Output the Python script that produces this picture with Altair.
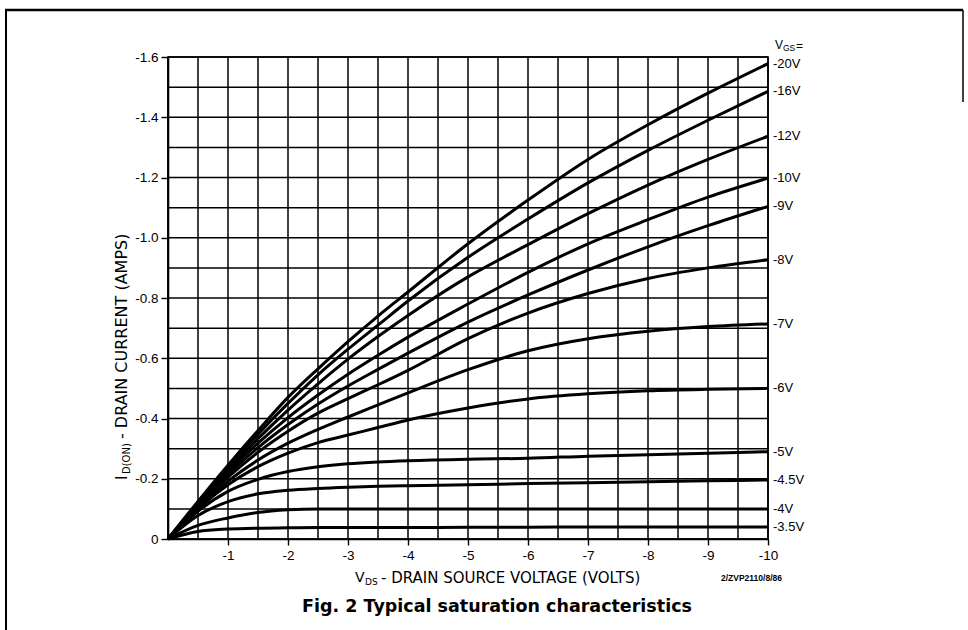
import altair as alt
import pandas as pd

# Drain-source voltage sample points (V)
vds = [0, -0.5, -1, -1.5, -2, -2.5, -3, -3.5, -4, -5, -6, -7, -8, -9, -10]

# Drain current (A) for each gate-source voltage
id_20 = [0, -0.125, -0.245, -0.36, -0.47, -0.565, -0.655, -0.74, -0.82, -0.98, -1.125, -1.26, -1.375, -1.48, -1.578]
id_16 = [0, -0.122, -0.238, -0.348, -0.45, -0.545, -0.63, -0.71, -0.79, -0.935, -1.062, -1.182, -1.29, -1.39, -1.486]
id_12 = [0, -0.118, -0.23, -0.333, -0.428, -0.515, -0.597, -0.672, -0.742, -0.87, -0.977, -1.08, -1.175, -1.26, -1.337]
id_10 = [0, -0.115, -0.222, -0.318, -0.403, -0.478, -0.547, -0.61, -0.67, -0.78, -0.885, -0.98, -1.06, -1.135, -1.198]
id_9 = [0, -0.112, -0.214, -0.303, -0.38, -0.448, -0.508, -0.563, -0.617, -0.72, -0.81, -0.893, -0.97, -1.04, -1.104]
id_8 = [0, -0.11, -0.205, -0.288, -0.358, -0.418, -0.466, -0.512, -0.56, -0.665, -0.75, -0.815, -0.865, -0.9, -0.927]
id_7 = [0, -0.105, -0.192, -0.262, -0.318, -0.364, -0.405, -0.445, -0.485, -0.562, -0.625, -0.665, -0.69, -0.705, -0.714]
id_6 = [0, -0.1, -0.18, -0.24, -0.285, -0.32, -0.345, -0.37, -0.395, -0.435, -0.465, -0.482, -0.492, -0.497, -0.5]
id_5 = [0, -0.092, -0.158, -0.198, -0.224, -0.24, -0.25, -0.256, -0.26, -0.265, -0.268, -0.275, -0.28, -0.285, -0.29]
id_45 = [0, -0.078, -0.124, -0.15, -0.162, -0.168, -0.172, -0.175, -0.177, -0.18, -0.184, -0.187, -0.19, -0.193, -0.196]
id_4 = [0, -0.045, -0.07, -0.088, -0.097, -0.1, -0.1, -0.1, -0.1, -0.1, -0.1, -0.1, -0.1, -0.1, -0.1]
id_35 = [0, -0.025, -0.033, -0.036, -0.037, -0.038, -0.038, -0.038, -0.038, -0.039, -0.039, -0.04, -0.04, -0.04, -0.04]

vgs_labels = ["-20V", "-16V", "-12V", "-10V", "-9V", "-8V", "-7V", "-6V", "-5V", "-4.5V", "-4V", "-3.5V"]
series = [id_20, id_16, id_12, id_10, id_9, id_8, id_7, id_6, id_5, id_45, id_4, id_35]

# grid lines and labelled ticks
x_grid = [0, -0.5, -1, -1.5, -2, -2.5, -3, -3.5, -4, -4.5, -5, -5.5, -6, -6.5, -7, -7.5, -8, -8.5, -9, -9.5, -10]
y_grid = [0, -0.1, -0.2, -0.3, -0.4, -0.5, -0.6, -0.7, -0.8, -0.9, -1.0, -1.1, -1.2, -1.3, -1.4, -1.5, -1.6]
x_labels = [-1, -2, -3, -4, -5, -6, -7, -8, -9, -10]
y_labels = [0, -0.2, -0.4, -0.6, -0.8, -1.0, -1.2, -1.4, -1.6]

rows = []
for name, vals in zip(vgs_labels, series):
    for v, i in zip(vds, vals):
        rows.append({"vgs": name, "vds": v, "id": i})
df = pd.DataFrame(rows)
ends = pd.DataFrame({"vgs": vgs_labels,
                     "vds": [vds[-1]] * len(series),
                     "id": [s[-1] for s in series]})
one = pd.DataFrame({"a": [0]})

FONT = "Liberation Sans"
TFONT = "DejaVu Sans"
W, H = 600, 482

xs = alt.Scale(domain=[-10, 0], reverse=True, nice=False, zero=False)
ys = alt.Scale(domain=[-1.6, 0], reverse=True, nice=False, zero=False)

x_axis = alt.Axis(
    values=x_labels, grid=False, title=None,
    domainColor="black", domainWidth=1.6,
    tickColor="black", tickSize=6, tickWidth=1.4,
    labelExpr="'-' + abs(datum.value)",
    labelFont=FONT, labelFontSize=13.5, labelColor="black", labelPadding=3,
    labelOverlap=False, labelFlush=False,
)
y_axis = alt.Axis(
    values=y_labels, grid=False, title=None,
    domainColor="black", domainWidth=1.6,
    tickColor="black", tickSize=7, tickWidth=1.4,
    labelExpr="datum.value == 0 ? '0' : '-' + format(abs(datum.value), '.1f')",
    labelFont=FONT, labelFontSize=13.5, labelColor="black", labelPadding=3,
    labelOverlap=False, labelFlush=False,
)

vgrid = alt.Chart(pd.DataFrame({"v": x_grid})).mark_rule(color="black", strokeWidth=1.5).encode(
    x=alt.X("v:Q", scale=xs, axis=x_axis))
hgrid = alt.Chart(pd.DataFrame({"i": y_grid})).mark_rule(color="black", strokeWidth=1.5).encode(
    y=alt.Y("i:Q", scale=ys, axis=y_axis))

lines = alt.Chart(df).mark_line(color="black", strokeWidth=3, interpolate="monotone").encode(
    x=alt.X("vds:Q", scale=xs, axis=x_axis),
    y=alt.Y("id:Q", scale=ys, axis=y_axis),
    detail="vgs:N",
)

end_labels = alt.Chart(ends).mark_text(align="left", baseline="middle", dx=5, font=FONT,
                                       fontSize=13, color="black").encode(
    x=alt.X("vds:Q", scale=xs, axis=x_axis),
    y=alt.Y("id:Q", scale=ys, axis=y_axis),
    text="vgs:N",
)


def txt(s, x, y, size=13, weight="normal", angle=0, align="left", baseline="middle", font=TFONT):
    return alt.Chart(one).mark_text(text=s, font=font, fontSize=size, fontWeight=weight,
                                    angle=angle, align=align, baseline=baseline,
                                    color="black").encode(x=alt.value(x), y=alt.value(y))


annot = [
    # V_GS =
    txt("V", 607, -12, 12, font=FONT),
    txt("GS", 615, -9, 8.5, font=FONT),
    txt("=", 628, -11, 12, font=FONT),
    # x axis title
    txt("V", 187, 521, 14),
    txt("DS", 197, 525, 9),
    txt("- DRAIN SOURCE VOLTAGE (VOLTS)", 213, 521, 15),
    txt("2/ZVP2110/8/86", 553, 521, 8.5, "bold", font=FONT),
    # y axis title (rotated)
    txt("I", -46, 423, 15, angle=270),
    txt("D(ON)", -41, 417, 10, angle=270),
    txt("- DRAIN CURRENT (AMPS)", -46, 382, 16, angle=270),
    # figure caption
    txt("Fig. 2 Typical saturation characteristics", 329, 550, 17.5, "bold", align="center"),
]


def rule(x, x2, y, y2, w=2):
    return alt.Chart(one).mark_rule(color="black", strokeWidth=w).encode(
        x=alt.value(x), x2=alt.value(x2), y=alt.value(y), y2=alt.value(y2))


frame = [
    rule(-163, 795, -47, -47, 2.5),
    rule(-162, -162, -47, 573, 2),
    rule(795, 795, -47, 45, 1.5),
]

chart = alt.layer(vgrid, hgrid, lines, end_labels, *annot, *frame).properties(
    width=W, height=H,
    autosize=alt.AutoSizeParams(type="none"),
    padding={"left": 168, "top": 57, "right": 200, "bottom": 91},
    background="white",
).configure_view(stroke="black", strokeWidth=1.6)

chart.save("out.html", embed_options={"renderer": "svg", "actions": False})
